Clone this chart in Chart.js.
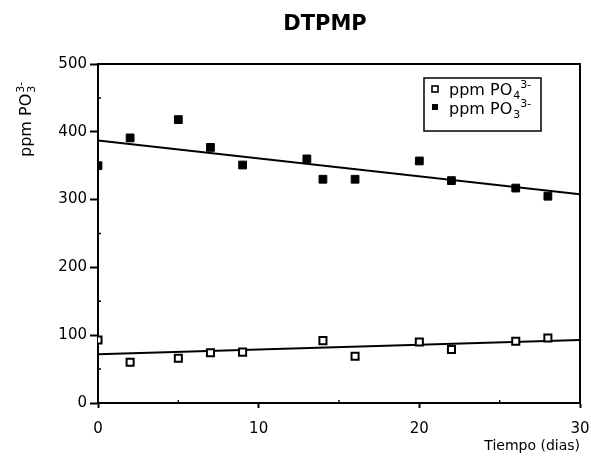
<!DOCTYPE html>
<html>
<head>
<meta charset="utf-8">
<script src="https://cdn.jsdelivr.net/npm/chart.js@4.4.1/dist/chart.umd.min.js"></script>
<style>
  html, body { margin: 0; padding: 0; background: #fff; }
  #wrap { width: 591px; height: 459px; }
</style>
</head>
<body>
<div id="wrap"><canvas id="c" width="591" height="459"></canvas></div>
<script>
// ---- data ----
const titleText = 'DTPMP';
const xTitle = 'Tiempo (dias)';
const po4Days = [0, 2, 5, 7, 9, 14, 16, 20, 22, 26, 28];
const po4Values = [93, 60, 66, 74, 75, 92, 69, 90, 79, 91, 96];
const po3Days = [0, 2, 5, 7, 9, 13, 14, 16, 20, 22, 26, 28];
const po3Values = [350, 391, 418, 377, 351, 360, 330, 330, 357, 328, 317, 305];
const fitDays = [0, 30];
const po4Fit = [72, 93];
const po3Fit = [387, 308];
const yTicks = [0, 100, 200, 300, 400, 500];
const xTicks = [0, 10, 20, 30];
const yMinor = [50, 150, 250, 350, 450];
const xMinor = [5, 15, 25];

const pts = (xs, ys) => xs.map((x, i) => ({ x: x, y: ys[i] }));
const FONT = "'DejaVu Sans', 'Liberation Sans', Arial, sans-serif";

function drawChem(ctx, x, y, base, sub, sup, size, stacked) {
  ctx.font = size + 'px ' + FONT;
  ctx.fillText(base, x, y);
  let cx = x + ctx.measureText(base).width;
  const small = Math.round(size * 0.7);
  ctx.font = small + 'px ' + FONT;
  const subW = ctx.measureText(sub).width;
  ctx.fillText(sub, cx + 1, y + 4);
  const supX = stacked ? cx + 1 : cx + subW + 1;
  ctx.fillText(sup, supX, y - 7);
}

const decor = {
  id: 'decor',
  afterDraw(chart) {
    const ctx = chart.ctx;
    const a = chart.chartArea;
    const xs = chart.scales.x, ys = chart.scales.y;
    ctx.save();
    // title
    ctx.fillStyle = '#000';
    ctx.font = 'bold 21px ' + FONT;
    ctx.textAlign = 'center';
    ctx.textBaseline = 'middle';
    ctx.fillText(titleText, 325, 25);

    ctx.strokeStyle = '#000';
    ctx.lineWidth = 2;
    // top and right frame
    ctx.beginPath();
    ctx.moveTo(a.left, a.top);
    ctx.lineTo(a.right, a.top);
    ctx.lineTo(a.right, a.bottom);
    ctx.stroke();
    // minor ticks (inward)
    ctx.lineWidth = 1.5;
    ctx.beginPath();
    yMinor.forEach(v => {
      const py = ys.getPixelForValue(v);
      ctx.moveTo(a.left, py); ctx.lineTo(a.left + 3, py);
    });
    xMinor.forEach(v => {
      const px = xs.getPixelForValue(v);
      ctx.moveTo(px, a.bottom); ctx.lineTo(px, a.bottom - 3);
    });
    ctx.stroke();

    // y-axis title, rotated, with stacked sub/superscript
    ctx.save();
    ctx.translate(31, 157);
    ctx.rotate(-Math.PI / 2);
    ctx.textBaseline = 'alphabetic';
    ctx.textAlign = 'left';
    drawChem(ctx, 0, 0, 'ppm PO', '3', '3-', 16, true);
    ctx.restore();

    // legend box
    const lx = 424, ly = 78, lw = 117, lh = 53;
    ctx.fillStyle = '#fff';
    ctx.fillRect(lx, ly, lw, lh);
    ctx.strokeStyle = '#000';
    ctx.lineWidth = 1.5;
    ctx.strokeRect(lx, ly, lw, lh);
    const ds = chart.data.datasets;
    const rows = [
      { ds: ds[0], my: 89, by: 95, sub: '4' },
      { ds: ds[1], my: 107, by: 114, sub: '3' }
    ];
    rows.forEach(r => {
      const s = 6;
      if (r.ds.pointBackgroundColor === '#000') {
        ctx.fillStyle = '#000';
        ctx.fillRect(435 - s / 2, r.my - s / 2, s, s);
      } else {
        ctx.fillStyle = '#fff';
        ctx.fillRect(435 - s / 2, r.my - s / 2, s, s);
        ctx.strokeStyle = '#000';
        ctx.lineWidth = 1.6;
        ctx.strokeRect(435 - s / 2, r.my - s / 2, s, s);
      }
      ctx.fillStyle = '#000';
      ctx.textAlign = 'left';
      ctx.textBaseline = 'alphabetic';
      drawChem(ctx, 449, r.by, 'ppm PO', r.sub, '3-', 16, false);
    });
    ctx.restore();
  }
};

new Chart(document.getElementById('c'), {
  type: 'scatter',
  data: {
    datasets: [
      {
        label: 'ppm PO4 3-',
        data: pts(po4Days, po4Values),
        pointStyle: 'rect',
        pointRadius: 5,
        pointBorderWidth: 2,
        pointBorderColor: '#000',
        pointBackgroundColor: '#fff',
        showLine: false
      },
      {
        label: 'ppm PO3 3-',
        data: pts(po3Days, po3Values),
        pointStyle: 'rect',
        pointRadius: 5.5,
        pointBorderWidth: 1,
        pointBorderColor: '#000',
        pointBackgroundColor: '#000',
        showLine: false
      },
      {
        label: 'fit PO4',
        data: pts(fitDays, po4Fit),
        showLine: true,
        borderColor: '#000',
        borderWidth: 2,
        pointRadius: 0,
        fill: false
      },
      {
        label: 'fit PO3',
        data: pts(fitDays, po3Fit),
        showLine: true,
        borderColor: '#000',
        borderWidth: 2,
        pointRadius: 0,
        fill: false
      }
    ]
  },
  options: {
    responsive: false,
    animation: false,
    layout: { padding: { left: 0, right: 11, top: 64, bottom: 0 } },
    plugins: {
      legend: { display: false },
      tooltip: { enabled: false },
      title: { display: false }
    },
    scales: {
      x: {
        type: 'linear',
        min: 0, max: 30,
        afterBuildTicks: s => { s.ticks = xTicks.map(v => ({ value: v })); },
        afterFit: s => { s.height = 56; s.paddingLeft = 0; s.paddingRight = 0; },
        ticks: { color: '#000', font: { family: FONT, size: 15 }, padding: 12 },
        grid: { display: true, drawOnChartArea: false, drawTicks: true, tickLength: 5, color: '#000', tickWidth: 2 },
        border: { display: true, color: '#000', width: 2 },
        title: {
          display: true, text: xTitle, align: 'end', color: '#000',
          font: { family: FONT, size: 14 }, padding: { top: 0, bottom: 4 }
        }
      },
      y: {
        type: 'linear',
        min: 0, max: 500,
        afterBuildTicks: s => { s.ticks = yTicks.map(v => ({ value: v })); },
        afterFit: s => { s.width = 98; s.paddingTop = 0; s.paddingBottom = 0; },
        ticks: { color: '#000', font: { family: FONT, size: 15 }, padding: 3 },
        grid: { display: true, drawOnChartArea: false, drawTicks: true, tickLength: 8, color: '#000', tickWidth: 2 },
        border: { display: true, color: '#000', width: 2 }
      }
    }
  },
  plugins: [decor]
});
</script>
</body>
</html>
